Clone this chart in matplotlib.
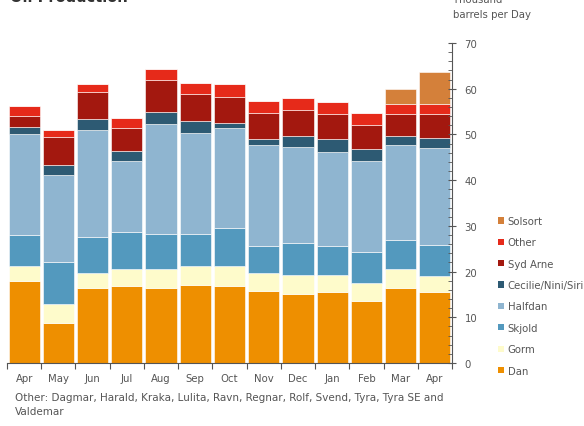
import matplotlib
matplotlib.use("Agg")
import matplotlib.pyplot as plt
import numpy as np
from matplotlib.patches import Patch

months = ["Apr", "May", "Jun", "Jul", "Aug", "Sep", "Oct", "Nov", "Dec", "Jan", "Feb", "Mar", "Apr"]

# thousand barrels per day, by field
dan      = [17.9, 8.8, 16.5, 16.8, 16.5, 17.1, 16.8, 15.8, 15.2, 15.5, 13.5, 16.5, 15.5]
gorm     = [3.4, 4.1, 3.1, 3.8, 4.1, 4.2, 4.5, 3.8, 4.0, 3.7, 4.0, 4.0, 3.6]
skjold   = [6.7, 9.1, 8.0, 8.0, 7.6, 7.0, 8.3, 6.0, 7.0, 6.4, 6.7, 6.4, 6.8]
halfdan  = [22.2, 19.2, 23.3, 15.5, 24.0, 22.0, 21.9, 22.1, 21.1, 20.5, 19.9, 20.8, 21.2]
cecilie  = [1.5, 2.2, 2.5, 2.3, 2.6, 2.6, 1.0, 1.3, 2.3, 2.9, 2.8, 2.0, 2.2]
syd_arne = [2.4, 6.1, 5.8, 5.1, 7.1, 6.0, 5.7, 5.7, 5.8, 5.5, 5.2, 4.7, 5.1]
other    = [2.1, 1.5, 1.8, 2.0, 2.4, 2.4, 2.8, 2.7, 2.6, 2.6, 2.6, 2.3, 2.3]
solsort  = [0, 0, 0, 0, 0, 0, 0, 0, 0, 0, 0, 3.3, 7.0]

series = [
    ("Dan", dan, "#EE8F00"),
    ("Gorm", gorm, "#FEFBCB"),
    ("Skjold", skjold, "#5399BE"),
    ("Halfdan", halfdan, "#8FB5D0"),
    ("Cecilie/Nini/Siri", cecilie, "#2D5A73"),
    ("Syd Arne", syd_arne, "#A3180F"),
    ("Other", other, "#E62A1A"),
    ("Solsort", solsort, "#D4803A"),
]

grey = "#555555"
fs = 7.3

fig = plt.figure(figsize=(5.84, 4.27), dpi=100)
ax = fig.add_axes([7 / 584, 1 - 364 / 427, 445 / 584, 320 / 427])

x = np.arange(len(months))
bottom = np.zeros(len(months))
for name, vals, col in series:
    vals = np.array(vals)
    ax.bar(x, vals, bottom=bottom, width=0.91, color=col, edgecolor="white", linewidth=0.4)
    bottom += vals

ax.set_xlim(-0.5, len(months) - 0.5)
ax.set_ylim(0, 70)

for s in ["top", "left"]:
    ax.spines[s].set_visible(False)
ax.spines["bottom"].set_color(grey)
ax.spines["right"].set_color(grey)
ax.spines["bottom"].set_linewidth(0.8)
ax.spines["right"].set_linewidth(0.8)

ax.set_xticks(x)
ax.set_xticklabels(months, fontsize=fs, color=grey)
ax.set_xticks(np.arange(-0.5, len(months)), minor=True)
ax.tick_params(axis="x", which="major", length=0, pad=7)
ax.tick_params(axis="x", which="minor", length=4, width=0.8, color=grey, direction="out")

ax.yaxis.tick_right()
ax.set_yticks(np.arange(0, 71, 10))
ax.set_yticks(np.arange(0, 71, 2), minor=True)
ax.tick_params(axis="y", which="major", direction="inout", length=6, width=0.8,
               color=grey, labelsize=fs, labelcolor=grey, pad=6)
ax.tick_params(axis="y", which="minor", direction="in", length=3, width=0.6, color=grey)

handles = [Patch(facecolor=col, edgecolor="none", label=name) for name, vals, col in series[::-1]]
fig.legend(handles=handles, loc="upper left", bbox_to_anchor=(494 / 584, 1 - 213 / 427),
           frameon=False, fontsize=fs, labelcolor=grey, handlelength=0.55, handleheight=0.55,
           handletextpad=0.4, labelspacing=1.12, borderaxespad=0)

fig.text(10 / 584, 1 - 2 / 427, "Oil Production", fontsize=10.5, fontweight="bold",
         color="#333333", ha="left", va="baseline")
fig.text(453 / 584, 1 - 3 / 427, "Thousand", fontsize=fs, color=grey, ha="left", va="baseline")
fig.text(453 / 584, 1 - 18 / 427, "barrels per Day", fontsize=fs, color=grey, ha="left", va="baseline")

fig.text(15 / 584, 1 - 401 / 427,
         "Other: Dagmar, Harald, Kraka, Lulita, Ravn, Regnar, Rolf, Svend, Tyra, Tyra SE and",
         fontsize=fs + 0.2, color=grey, ha="left", va="baseline")
fig.text(15 / 584, 1 - 415 / 427, "Valdemar", fontsize=fs + 0.2, color=grey, ha="left", va="baseline")

fig.savefig("out.png", dpi=100)
